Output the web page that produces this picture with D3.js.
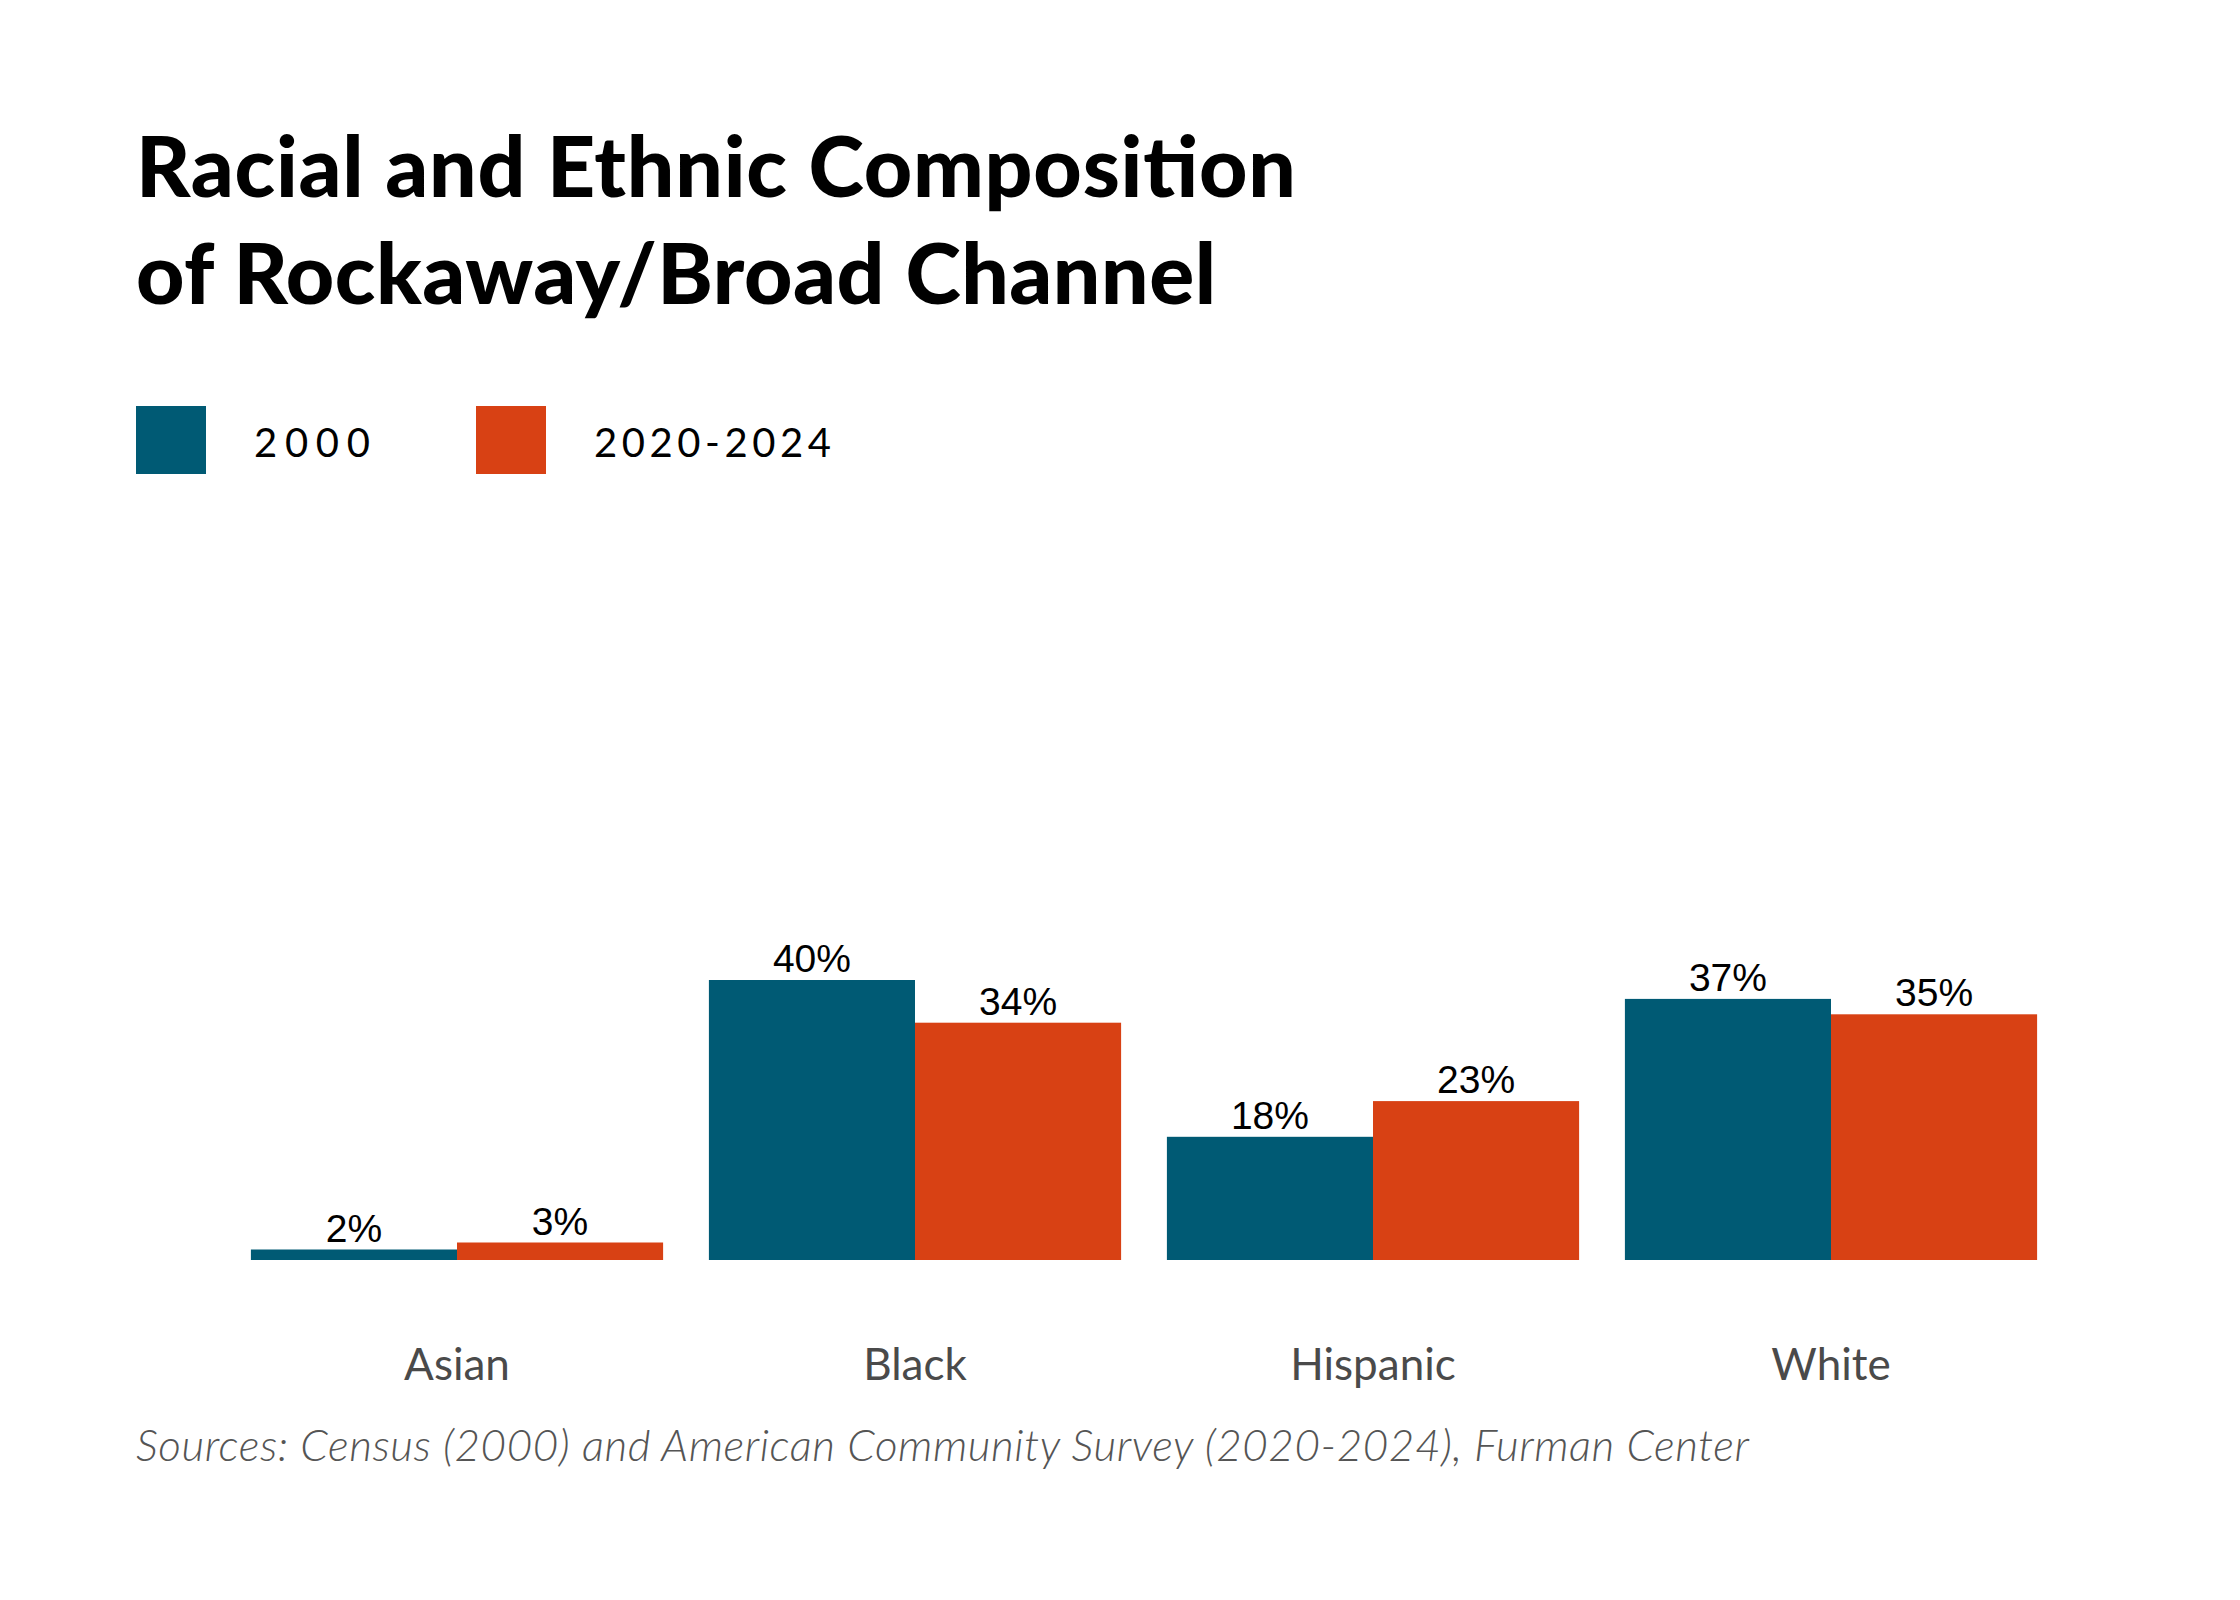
<!DOCTYPE html>
<html>
<head>
<meta charset="utf-8">
<script src="https://cdn.jsdelivr.net/npm/d3@7"></script>
<style>
  html, body { margin: 0; padding: 0; background: #fff; }
  svg { display: block; }
</style>
</head>
<body>
<div id="chart"></div>
<script>
// Racial and ethnic composition, grouped bars
const categories = ["Asian", "Black", "Hispanic", "White"];
const seriesNames = ["2000", "2020-2024"];
const values2000 = [1.5, 40.0, 17.6, 37.3];
const values2020 = [2.5, 33.9, 22.7, 35.1];
const labels2000 = ["2%", "40%", "18%", "37%"];
const labels2020 = ["3%", "34%", "23%", "35%"];
const colors = ["#005a74", "#d84114"];

const W = 2240, H = 1600;
const baseline = 1260;

const svg = d3.select("#chart").append("svg")
  .attr("width", W)
  .attr("height", H);

// stretch a text's letter spacing so it spans a given width
function fitWidth(sel, width) {
  sel.attr("textLength", width).attr("lengthAdjust", "spacing");
}

// Title
const titleLines = ["Racial and Ethnic Composition", "of Rockaway/Broad Channel"];
const titleWidths = [1160, 1080];
titleLines.forEach((line, i) => {
  svg.append("text")
    .attr("x", 136)
    .attr("y", 197 + i * 107)
    .style("font-family", "Lato, 'Noto Sans', sans-serif")
    .style("font-weight", 900)
    .style("font-size", "84px")
    .style("fill", "#000")
    .text(line)
    .call(fitWidth, titleWidths[i]);
});

// Legend
const legend = svg.append("g").attr("class", "legend");
const legendX = [136, 476];
const legendTextWidths = [116, 237];
seriesNames.forEach((name, i) => {
  legend.append("rect")
    .attr("x", legendX[i])
    .attr("y", 406)
    .attr("width", 70)
    .attr("height", 68)
    .attr("fill", colors[i]);
  legend.append("text")
    .attr("x", legendX[i] + 118)
    .attr("y", 457)
    .style("font-family", "Lato, sans-serif")
    .style("font-size", "40px")
    .style("fill", "#000")
    .text(name)
    .call(fitWidth, legendTextWidths[i]);
});

// Scales
const x0 = d3.scaleBand()
  .domain(categories)
  .range([228, 2060])
  .paddingInner(0.1)
  .paddingOuter(0.05);

const x1 = d3.scaleBand()
  .domain(seriesNames)
  .range([0, x0.bandwidth()])
  .padding(0);

const y = d3.scaleLinear()
  .domain([0, 40])
  .range([baseline, baseline - 280]);

const data = categories.map((c, i) => ({
  category: c,
  bars: [
    { series: seriesNames[0], value: values2000[i], label: labels2000[i] },
    { series: seriesNames[1], value: values2020[i], label: labels2020[i] }
  ]
}));

const groups = svg.append("g").attr("class", "bars")
  .selectAll("g")
  .data(data)
  .join("g")
  .attr("transform", d => `translate(${x0(d.category)},0)`);

groups.selectAll("rect")
  .data(d => d.bars)
  .join("rect")
  .attr("x", d => x1(d.series))
  .attr("y", d => y(d.value))
  .attr("width", x1.bandwidth())
  .attr("height", d => y(0) - y(d.value))
  .attr("fill", (d, i) => colors[i]);

groups.selectAll("text.value")
  .data(d => d.bars)
  .join("text")
  .attr("class", "value")
  .attr("x", d => x1(d.series) + x1.bandwidth() / 2)
  .attr("y", d => y(d.value) - 8)
  .attr("text-anchor", "middle")
  .style("font-family", "'Liberation Sans', Arial, sans-serif")
  .style("font-size", "39px")
  .style("fill", "#000")
  .text(d => d.label);

// Category axis (no line, no ticks)
const xAxis = svg.append("g")
  .attr("transform", `translate(0,${baseline})`)
  .call(d3.axisBottom(x0).tickSize(0).tickPadding(0));
xAxis.select(".domain").remove();
xAxis.selectAll("text")
  .attr("dy", 0)
  .attr("y", 120)
  .style("font-family", "Lato, sans-serif")
  .style("font-size", "44px")
  .style("fill", "#4a4a4a");

// Source note
svg.append("text")
  .attr("x", 136)
  .attr("y", 1461)
  .style("font-family", "Lato, sans-serif")
  .style("font-style", "italic")
  .style("font-weight", 300)
  .style("font-size", "44px")
  .style("fill", "#555")
  .text("Sources: Census (2000) and American Community Survey (2020-2024), Furman Center")
  .call(fitWidth, 1613);
</script>
</body>
</html>
